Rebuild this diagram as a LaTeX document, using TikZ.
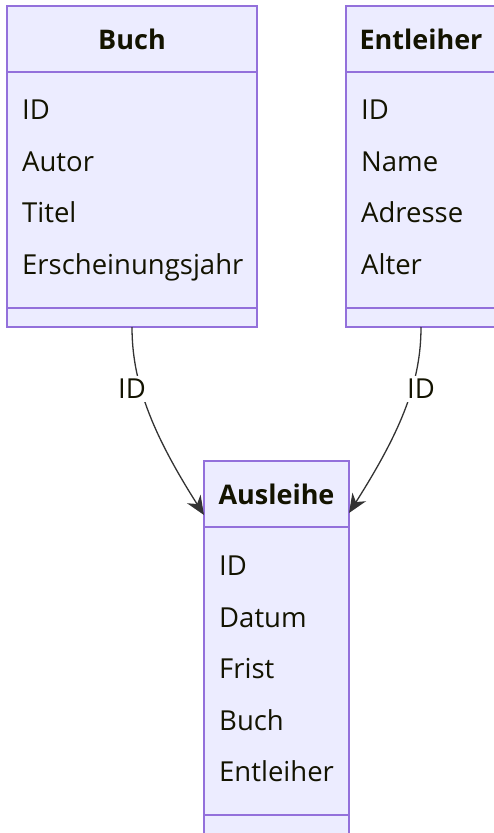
\documentclass[tikz,border=0pt]{standalone}
\usepackage{fontspec}
\setmainfont{Open Sans}
\usetikzlibrary{arrows.meta, positioning}
\definecolor{classfill}{HTML}{ECECFF}
\definecolor{classline}{HTML}{9370DB}
\definecolor{edgeline}{HTML}{333333}
\definecolor{txt}{HTML}{131300}
\tikzset{>={Stealth[length=19pt,width=16pt,inset=6pt]}}

\begin{document}
\begin{tikzpicture}[x=1pt, y=-1pt,
    box/.style={draw=classline, fill=classfill, line width=1.3pt, rectangle, inner sep=0pt, outer sep=0pt},
    head/.style={box, text=txt, font=\fontsize{27}{30}\selectfont\bfseries},
    attr/.style={anchor=base west, inner sep=0pt, text=txt, font=\fontsize{27.5}{30}\selectfont},
    lbl/.style={fill=white, inner sep=3pt, text=txt, font=\fontsize{27.5}{30}\selectfont},
    rel/.style={->, draw=edgeline, line width=1.3pt}]
    \useasboundingbox (0,0) rectangle (493,833);

    % Buch
    \node (buchH) [head, minimum width=250pt, minimum height=66pt] at (132,39) {Buch};
    \node (buchA) [box, minimum width=250pt, minimum height=236pt] at (132,190) {};
    \node (buchM) [box, minimum width=250pt, minimum height=19pt] at (132,317.5) {};
    \node (b1) [attr] at (22,119.5) {ID};
    \node (b2) [attr] at (22,171) {Autor};
    \node (b3) [attr] at (22,222.5) {Titel};
    \node (b4) [attr] at (22,274) {Erscheinungsjahr};

    % Entleiher
    \node (entH) [head, minimum width=150pt, minimum height=66pt] at (421,39) {Entleiher};
    \node (entA) [box, minimum width=150pt, minimum height=236pt] at (421,190) {};
    \node (entM) [box, minimum width=150pt, minimum height=19pt] at (421,317.5) {};
    \node (e1) [attr] at (361,119.5) {ID};
    \node (e2) [attr] at (361,171) {Name};
    \node (e3) [attr] at (361,222.5) {Adresse};
    \node (e4) [attr] at (361,274) {Alter};

    % Ausleihe
    \node (ausH) [head, minimum width=145pt, minimum height=66pt] at (276.5,494) {Ausleihe};
    \node (ausA) [box, minimum width=145pt, minimum height=288pt] at (276.5,671) {};
    \node (ausM) [box, minimum width=145pt, minimum height=19pt] at (276.5,824.5) {};
    \node (a1) [attr] at (219,575.5) {ID};
    \node (a2) [attr] at (219,627) {Datum};
    \node (a3) [attr] at (219,678) {Frist};
    \node (a4) [attr] at (219,730) {Buch};
    \node (a5) [attr] at (219,781.5) {Entleiher};

    % Beziehungen
    \draw [rel] (buchM.south) .. controls +(0,53) and +(-54,-85) .. ([yshift=12pt]ausH.south west);
    \draw [rel] (entM.south) .. controls +(0,53) and +(54,-85) .. ([yshift=14pt]ausH.south east);
    \node (l1) [lbl] at (132,389) {ID};
    \node (l2) [lbl] at (421,389) {ID};
\end{tikzpicture}
\end{document}
